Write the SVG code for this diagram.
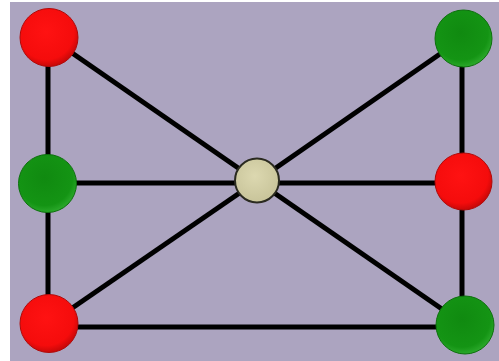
<svg xmlns="http://www.w3.org/2000/svg" width="499" height="361" viewBox="0 0 499 361">
<defs>
<radialGradient id="gr" cx="0.45" cy="0.4" r="0.6">
<stop offset="0" stop-color="#ff1212"/>
<stop offset="0.8" stop-color="#f50c0c"/>
<stop offset="1" stop-color="#c80808"/>
</radialGradient>
<radialGradient id="gg" cx="0.45" cy="0.4" r="0.6">
<stop offset="0" stop-color="#108a10"/>
<stop offset="0.8" stop-color="#149414"/>
<stop offset="1" stop-color="#2aa82a"/>
</radialGradient>
<radialGradient id="gc" cx="0.45" cy="0.4" r="0.6">
<stop offset="0" stop-color="#dcd8b0"/>
<stop offset="1" stop-color="#c8c49a"/>
</radialGradient>
<style>
.e{stroke:#000;stroke-width:5;fill:none}
.r{fill:url(#gr);stroke:#b00a0a;stroke-width:1}
.g{fill:url(#gg);stroke:#0c700c;stroke-width:1}
.c{fill:url(#gc);stroke:#2a2a20;stroke-width:2}
</style>
</defs>
<rect x="10" y="2" width="489" height="359" fill="#aca4c0"/>
<g id="edges">
<line class="e" x1="48" y1="37" x2="48" y2="183"/>
<line class="e" x1="48" y1="183" x2="48" y2="324"/>
<line class="e" x1="49" y1="327" x2="465" y2="327"/>
<line class="e" x1="462" y1="38" x2="462" y2="182"/>
<line class="e" x1="462" y1="182" x2="462" y2="325"/>
<line class="e" x1="48" y1="183" x2="463" y2="183"/>
<line class="e" x1="49" y1="37" x2="257" y2="181"/>
<line class="e" x1="463" y1="38" x2="257" y2="181"/>
<line class="e" x1="49" y1="324" x2="257" y2="181"/>
<line class="e" x1="465" y1="325" x2="257" y2="181"/>
</g>
<g id="n1"><circle class="r" cx="49" cy="37.5" r="29"/></g>
<g id="n2"><circle class="g" cx="463.5" cy="38.5" r="28.5"/></g>
<g id="n3"><circle class="g" cx="47.5" cy="183.5" r="29"/></g>
<g id="n4"><circle class="r" cx="463.5" cy="181.5" r="28.5"/></g>
<g id="n5"><circle class="r" cx="49" cy="323.5" r="29"/></g>
<g id="n6"><circle class="g" cx="465" cy="325" r="29"/></g>
<g id="n7"><circle class="c" cx="257" cy="180.5" r="22"/></g>
</svg>
